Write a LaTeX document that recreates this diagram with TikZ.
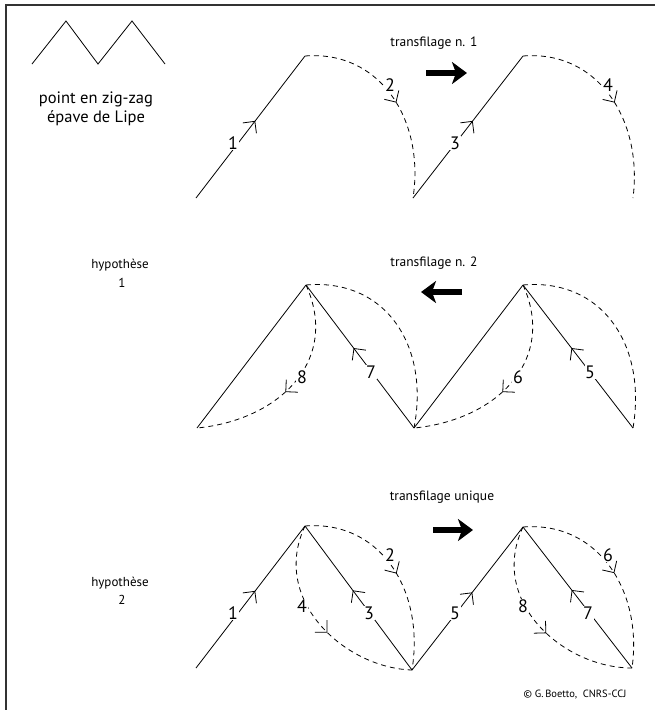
\documentclass[tikz,border=0pt]{standalone}
\usepackage{fontspec}
\setmainfont{PT Sans}
\usetikzlibrary{arrows.meta,decorations.markings}
\begin{document}
\begin{tikzpicture}[x=1pt,y=-1pt,
  ln/.style={line width=0.8pt},
  dsh/.style={line width=0.8pt, dash pattern=on 5pt off 4pt},
  mk/.style={postaction={decorate,decoration={markings,mark=at position #1 with {\draw[solid,line width=0.8pt] (-8.5pt,8.5pt) -- (0pt,0pt) -- (-8.5pt,-8.5pt);}}}},
  num/.style={fill=white, inner sep=0.6pt, font=\fontsize{18}{18}\selectfont},
  ttl/.style={font=\fontsize{13.5}{13.5}\selectfont},
  hyp/.style={font=\fontsize{13}{13}\selectfont},
  bigarrow/.style={line width=6.5pt, -{Stealth[length=15pt,width=22pt,inset=4pt]}},
]
\useasboundingbox[fill=white] (0,0) rectangle (655,710);
% frame
\coordinate (fa) at (6,710);
\coordinate (fb) at (6,5);
\coordinate (fc) at (655,5);
\draw[line width=1.6pt, black!80] (fa) -- (fb) -- (fc);

% icon
\coordinate (z1) at (32,64);
\coordinate (z2) at (66,21);
\coordinate (z3) at (98,64);
\coordinate (z4) at (132,21);
\coordinate (z5) at (165,64);
\draw[ln] (z1) -- (z2) -- (z3) -- (z4) -- (z5);
\node[font=\fontsize{16.5}{16.5}\selectfont] (zt1) at (96,99) {point en zig-zag};
\node[font=\fontsize{16.5}{16.5}\selectfont] (zt2) at (96,118) {épave de Lipe};

% ---------- row 1 ----------
\coordinate (A1) at (196,198);
\coordinate (T1) at (305,56);
\coordinate (B1) at (413,198);
\coordinate (T2) at (523,56);
\coordinate (B2) at (633,198);
\draw[ln, mk=0.54] (A1) -- (T1);
\draw[dsh, mk=0.52] (T1) .. controls (380,50) and (425,120) .. (B1);
\draw[ln, mk=0.54] (B1) -- (T2);
\draw[dsh, mk=0.52] (T2) .. controls (598,50) and (643,120) .. (B2);
\node[num] (r1n1) at (233,143) {1};
\node[num] (r1n2) at (390,85) {2};
\node[num] (r1n3) at (455,143) {3};
\node[num] (r1n4) at (608,85) {4};
\node[ttl] (r1t) at (434,43) {transfilage n. 1};
\coordinate (r1a) at (426,73);
\coordinate (r1b) at (467,73);
\draw[bigarrow] (r1a) -- (r1b);

% ---------- row 2 ----------
\node[hyp] (h1a) at (120,265) {hypothèse};
\node[hyp] (h1b) at (122,283) {1};
\coordinate (L1) at (197,428);
\coordinate (T3) at (306,285);
\coordinate (M) at (414,428);
\coordinate (T4) at (523,285);
\coordinate (R) at (633,428);
\draw[ln] (L1) -- (T3);
\draw[ln, mk=0.556] (M) -- (T3);
\draw[dsh, mk=0.545] (T3) .. controls (340,360) and (280,420) .. (L1);
\draw[dsh] (T3) .. controls (385,278) and (430,345) .. (M);
\draw[ln] (M) -- (T4);
\draw[ln, mk=0.556] (R) -- (T4);
\draw[dsh, mk=0.545] (T4) .. controls (557,360) and (497,420) .. (M);
\draw[dsh] (T4) .. controls (602,278) and (647,345) .. (R);
\node[num] (r2n7) at (371,372) {7};
\node[num] (r2n8) at (302,377) {8};
\node[num] (r2n5) at (590,372) {5};
\node[num] (r2n6) at (518,377) {6};
\node[ttl] (r2t) at (434,263) {transfilage n. 2};
\coordinate (r2a) at (462,292);
\coordinate (r2b) at (421,292);
\draw[bigarrow] (r2a) -- (r2b);

% ---------- row 3 ----------
\node[hyp] (h2a) at (120,583) {hypothèse};
\node[hyp] (h2b) at (122,600) {2};
\coordinate (P1) at (196,668);
\coordinate (T5) at (305,526);
\coordinate (Q) at (412,670);
\coordinate (T6) at (523,527);
\coordinate (S) at (632,668);
\draw[ln, mk=0.54] (P1) -- (T5);
\draw[ln, mk=0.55] (Q) -- (T5);
\draw[dsh, mk=0.52] (T5) .. controls (380,520) and (425,590) .. (Q);
\draw[dsh, mk=0.55] (T5) .. controls (270,600) and (345,668) .. (Q);
\draw[ln, mk=0.54] (Q) -- (T6);
\draw[ln, mk=0.55] (S) -- (T6);
\draw[dsh, mk=0.52] (T6) .. controls (598,521) and (643,591) .. (S);
\draw[dsh, mk=0.55] (T6) .. controls (488,601) and (563,668) .. (S);
\node[num] (r3n1) at (233,613) {1};
\node[num] (r3n2) at (390,555) {2};
\node[num] (r3n3) at (369,613) {3};
\node[num] (r3n4) at (302,606) {4};
\node[num] (r3n5) at (455,613) {5};
\node[num] (r3n6) at (608,555) {6};
\node[num] (r3n7) at (588,613) {7};
\node[num] (r3n8) at (523,606) {8};
\node[ttl] (r3t) at (442,497) {transfilage unique};
\coordinate (r3a) at (433,530);
\coordinate (r3b) at (473,530);
\draw[bigarrow] (r3a) -- (r3b);

\node[font=\fontsize{10.5}{10.5}\selectfont] (copy) at (575,695) {© G.\,Boetto,\ \ CNRS-CCJ};
\end{tikzpicture}
\end{document}
